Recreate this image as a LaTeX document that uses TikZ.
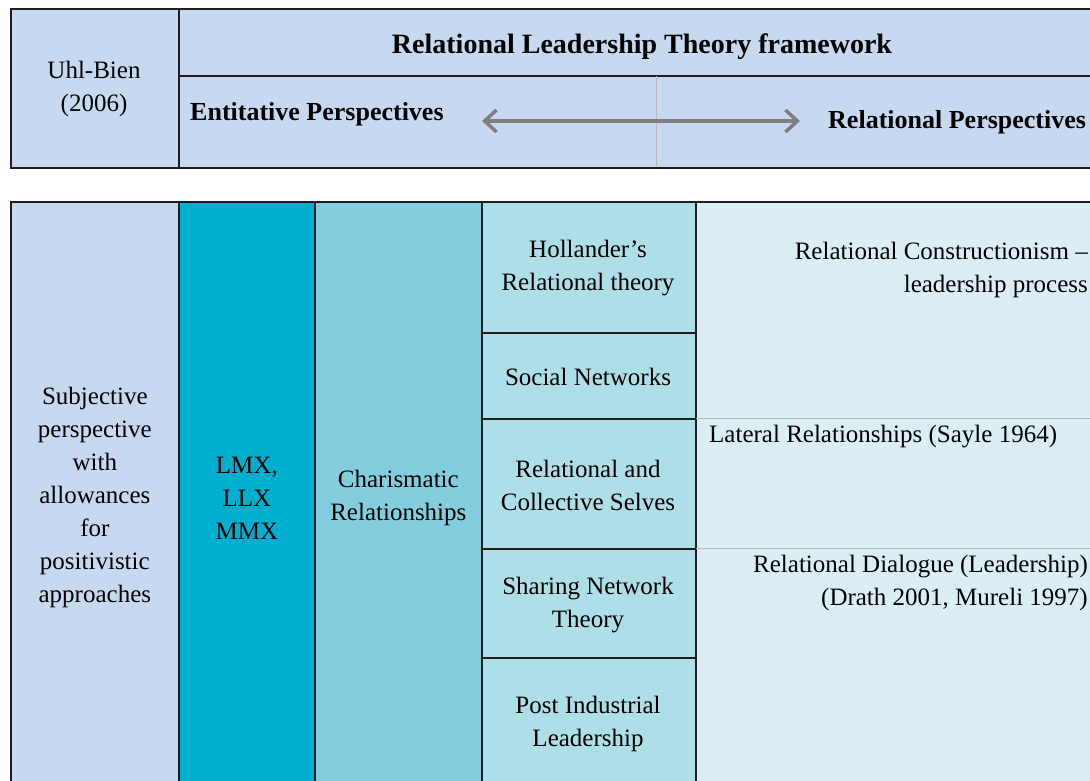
\documentclass[tikz,border=0pt]{standalone}
\usepackage{fontspec}
\setmainfont{Liberation Serif}
\usetikzlibrary{arrows.meta}
\definecolor{hdr}{HTML}{C6D9F1}
\definecolor{lmx}{HTML}{00AFCF}
\definecolor{cha}{HTML}{82CDDE}
\definecolor{mid}{HTML}{AEDEE8}
\definecolor{rgt}{HTML}{DAEEF3}
\definecolor{linec}{HTML}{1E1E1E}
\definecolor{faint}{HTML}{B8B8B8}
\definecolor{arrowc}{HTML}{7F7F7F}
\begin{document}
\begin{tikzpicture}[x=1pt,y=-1pt,
  cell/.style={draw=linec, line width=1.7pt, anchor=north west, inner sep=0pt,
    align=center, font=\fontsize{25}{33}\selectfont, text=black},
  txt/.style={inner sep=0pt, font=\fontsize{25}{33}\selectfont, text=black},
  boldtxt/.style={inner sep=0pt, font=\fontsize{26}{33}\selectfont\bfseries, text=black},
  faintline/.style={draw=faint, line width=0.8pt},
  biarrow/.style={draw=arrowc, line width=3.5pt, {Straight Barb[length=12pt,width=22pt]}-{Straight Barb[length=12pt,width=22pt]}}]
\useasboundingbox (0,0) rectangle (1090,780);
\fill[white] (0,0) rectangle (1090,780);
\clip (0,0) rectangle (1090,780);
% top table
\node[cell, fill=hdr, minimum width=168pt, minimum height=159pt] (uhl) at (10,8) {};
\node[txt, align=center] (uhltxt) at (94,89) {Uhl-Bien\\(2006)};
\node[cell, fill=hdr, minimum width=940pt, minimum height=67pt] (title) at (178,8) {};
\node[inner sep=0pt, font=\fontsize{28}{33}\selectfont\bfseries, anchor=base] (titletxt) at (642,53) {Relational Leadership Theory framework};
\node[cell, fill=hdr, minimum width=940pt, minimum height=92pt] (persp) at (178,75) {};
\coordinate (dtop) at (656,76);
\coordinate (dbot) at (656,166);
\draw[faintline] (dtop) -- (dbot);
\node[boldtxt, anchor=west] (ent) at (190,114) {Entitative Perspectives};
\node[boldtxt, anchor=west] (rel) at (828,122) {Relational Perspectives};
\coordinate (aL) at (482,121);
\coordinate (aR) at (800,121);
\draw[biarrow] (aL) -- (aR);
% bottom table
\node[cell, fill=hdr, minimum width=168pt, minimum height=592pt] (subj) at (10,201) {Subjective\\perspective\\with\\allowances\\for\\positivistic\\approaches};
\node[cell, fill=lmx, minimum width=136pt, minimum height=592pt] (lmxc) at (178,201) {LMX,\\LLX\\MMX};
\node[cell, fill=cha, minimum width=167pt, minimum height=592pt] (char) at (314,201) {Charismatic\\Relationships};
\node[cell, fill=mid, minimum width=214pt, minimum height=131pt] (holl) at (481,201) {};
\node[txt, align=center] (holltxt) at (588,268.5) {Hollander’s\\Relational theory};
\node[cell, fill=mid, minimum width=214pt, minimum height=86pt] (soc) at (481,332) {};
\node[txt] (soctxt) at (588,377) {Social Networks};
\node[cell, fill=mid, minimum width=214pt, minimum height=130pt] (rcs) at (481,418) {};
\node[txt, align=center] (rcstxt) at (588,485) {Relational and\\Collective Selves};
\node[cell, fill=mid, minimum width=214pt, minimum height=109pt] (snt) at (481,548) {};
\node[txt, align=center] (snttxt) at (588,605) {Sharing Network\\Theory};
\node[cell, fill=mid, minimum width=214pt, minimum height=140pt] (pil) at (481,657) {};
\node[txt, align=center] (piltxt) at (588,724) {Post Industrial\\Leadership};
\node[cell, fill=rgt, minimum width=420pt, minimum height=592pt] (right) at (695,201) {};
\coordinate (g1a) at (696,418);
\coordinate (g1b) at (1090,418);
\coordinate (g2a) at (696,548);
\coordinate (g2b) at (1090,548);
\draw[faintline] (g1a) -- (g1b);
\draw[faintline] (g2a) -- (g2b);
\node[txt, anchor=east, align=right] (rc) at (1088,269.5) {Relational Constructionism –\\leadership process};
\node[txt, anchor=west] (lat) at (709,437) {Lateral Relationships (Sayle 1964)};
\node[txt, anchor=east, align=right] (dia) at (1088,583) {Relational Dialogue (Leadership)\\(Drath 2001, Mureli 1997)};
\end{tikzpicture}
\end{document}
